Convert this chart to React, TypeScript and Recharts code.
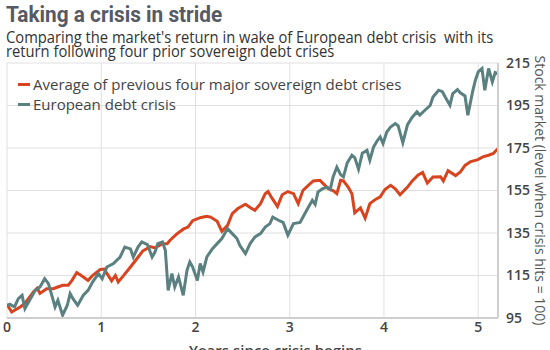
import { LineChart, Line, XAxis, YAxis, CartesianGrid, Legend } from 'recharts';

const xTicks = [0, 1, 2, 3, 4, 5];
const yTicks = [95, 115, 135, 155, 175, 195, 215];

// Average of previous four major sovereign debt crises
const avgYears = [
  0.0, 0.05, 0.14, 0.19, 0.28, 0.32, 0.35, 0.42, 0.49, 0.54, 0.59, 0.65, 0.69, 0.74, 0.81, 0.86, 0.91, 0.99,
  1.03, 1.06, 1.11, 1.15, 1.18, 1.23, 1.31, 1.38, 1.44, 1.52, 1.57, 1.65, 1.7, 1.73, 1.8, 1.87, 1.92, 1.97,
  2.05, 2.12, 2.16, 2.23, 2.28, 2.34, 2.39, 2.45, 2.53, 2.58, 2.63, 2.69, 2.74, 2.77, 2.81, 2.87, 2.92, 2.98,
  3.04, 3.09, 3.14, 3.2, 3.25, 3.32, 3.35, 3.41, 3.46, 3.5, 3.54, 3.57, 3.62, 3.66, 3.69, 3.75, 3.8, 3.85,
  3.91, 3.96, 4.01, 4.07, 4.12, 4.17, 4.25, 4.3, 4.36, 4.41, 4.46, 4.52, 4.6, 4.63, 4.68, 4.76, 4.81, 4.86,
  4.92, 4.99, 5.05, 5.11, 5.16, 5.21,
];
const avgValues = [
  101.4, 97.8, 100.2, 101.9, 107.2, 109, 106.6, 108.8, 108.8, 109.6, 110.4, 110.4, 112.7, 116.4, 114.3, 112.7, 115.1, 117.8,
  118, 116, 112.5, 115, 112, 114.6, 119, 123, 126.5, 128.6, 128, 130, 130, 131.6, 134.5, 136.8, 137.8, 140.8,
  142.2, 142.9, 142.5, 140.5, 135.8, 138.6, 144.1, 146.5, 148.5, 147, 145.7, 148.8, 153.5, 154.5, 151.5, 147.5, 153, 154.5,
  153.5, 148.8, 155, 157.5, 159.5, 159.8, 158.5, 155.8, 155, 153.5, 159.8, 159.5, 156.6, 153.5, 144.5, 146.8, 142, 148.8,
  150.8, 152, 155.5, 157.4, 155.8, 153, 156.6, 159.5, 162.2, 163.5, 158.5, 161.4, 161.5, 159.5, 164.3, 162, 163.7, 166.8,
  168.6, 169.4, 170.8, 171.6, 172.4, 174.7,
];

// European debt crisis
const eurYears = [
  0.0, 0.03, 0.08, 0.12, 0.16, 0.19, 0.24, 0.3, 0.35, 0.4, 0.44, 0.48, 0.51, 0.54, 0.59, 0.64, 0.67, 0.7, 0.75,
  0.81, 0.86, 0.91, 0.97, 1.01, 1.06, 1.13, 1.2, 1.25, 1.31, 1.34, 1.39, 1.43, 1.49, 1.54, 1.57, 1.6, 1.65,
  1.68, 1.71, 1.75, 1.78, 1.82, 1.87, 1.91, 1.94, 1.97, 2.02, 2.05, 2.08, 2.12, 2.18, 2.23, 2.28, 2.34, 2.39,
  2.44, 2.47, 2.53, 2.58, 2.63, 2.69, 2.74, 2.79, 2.82, 2.88, 2.93, 2.98, 3.04, 3.11, 3.18, 3.24, 3.27, 3.3,
  3.35, 3.4, 3.43, 3.46, 3.5, 3.54, 3.57, 3.61, 3.66, 3.69, 3.73, 3.77, 3.82, 3.85, 3.89, 3.93, 3.96, 3.99,
  4.03, 4.07, 4.12, 4.15, 4.2, 4.25, 4.3, 4.35, 4.38, 4.44, 4.49, 4.52, 4.58, 4.62, 4.65, 4.7, 4.73, 4.78,
  4.81, 4.86, 4.89, 4.94, 4.97, 5.0, 5.04, 5.07, 5.11, 5.15, 5.18, 5.21,
];
const eurValues = [
  101, 101.5, 100.2, 104.1, 105.7, 99.4, 103.3, 108, 109.6, 113.5, 111.2, 104.9, 100.2, 103.3, 96.3, 101, 106.5, 104.1, 101,
  105.7, 108, 112, 115.9, 113.5, 119, 120.6, 123.7, 128.4, 127.5, 123.7, 128.4, 130.8, 129.5, 123.7, 126, 130, 130.8,
  126.9, 108, 115.9, 109.6, 114.3, 105.7, 117.4, 121.4, 119, 112.7, 120.6, 116.7, 123.7, 127.6, 130, 132.4, 137.1, 134.7,
  132.4, 129.2, 125.3, 130, 133.1, 134.7, 137.8, 139.4, 142.5, 141, 140, 134, 139.4, 140, 145.7, 150.4, 148.5, 154.3,
  155.9, 156.5, 155.5, 161.4, 166, 162.5, 161.4, 168, 171.6, 170.5, 165, 172.5, 173.9, 169.2, 175.5, 178.5, 180.2, 177.1,
  182.5, 184.9, 186.5, 185.5, 177.5, 186, 189.5, 192, 190.5, 193, 195, 199, 202.2, 201.5, 199, 195.1, 200.6, 202.5,
  201, 199.5, 190.4, 201.4, 206.9, 210.8, 212.4, 202.2, 212.4, 206.1, 210.5, 210,
];

const avgData = avgYears.map((x, i) => ({ x, v: avgValues[i] }));
const eurData = eurYears.map((x, i) => ({ x, v: eurValues[i] }));

const RED = '#d8441f';
const TEAL = '#5a8080';

const legendItems = [
  { label: 'Average of previous four major sovereign debt crises', color: RED },
  { label: 'European debt crisis', color: TEAL },
];

const renderLegend = () => (
  <div style={{ fontFamily: 'Open Sans', fontSize: 15, color: '#444', lineHeight: '20px', whiteSpace: 'nowrap' }}>
    {legendItems.map((it) => (
      <div key={it.label} style={{ display: 'flex', alignItems: 'center' }}>
        <span style={{ display: 'inline-block', width: 12, height: 3, background: it.color, marginRight: 3 }} />
        {it.label}
      </div>
    ))}
  </div>
);

const XLabel = ({ viewBox }: any) => (
  <text x={viewBox.x + viewBox.width / 2 + 23} y={viewBox.y + 38} textAnchor="middle"
    fontFamily="Open Sans" fontSize={15} fontWeight={600} fill="#444">
    Years since crisis begins
  </text>
);

const YLabel = ({ viewBox }: any) => {
  const cx = viewBox.x + 42;
  const cy = viewBox.y + viewBox.height / 2;
  return (
    <text x={cx} y={cy} transform={`rotate(90, ${cx}, ${cy})`} textAnchor="middle" dominantBaseline="central"
      fontFamily="Open Sans" fontSize={14} fill="#555">
      Stock market (level when crisis hits = 100)
    </text>
  );
};

export default function App() {
  return (
    <div style={{ position: 'absolute', top: 0, left: 0, width: 550, height: 350, overflow: 'hidden', background: '#fff' }}>
      <LineChart width={550} height={350} data={avgData} margin={{ top: 63, right: 0, left: 7, bottom: 0 }}>
        <CartesianGrid stroke="#e0e0e0" />
        <XAxis
          type="number"
          dataKey="x"
          domain={[0, 5.21]}
          ticks={xTicks}
          allowDataOverflow
          height={32}
          axisLine={{ stroke: '#cfcfcf', strokeWidth: 2 }}
          tickLine={false}
          tickSize={0}
          tickMargin={4}
          tick={{ fontFamily: 'Open Sans', fontSize: 14, fontWeight: 600, fill: '#444' }}
          label={<XLabel />}
        />
        <YAxis
          orientation="right"
          domain={[95, 215]}
          ticks={yTicks}
          width={52}
          axisLine={{ stroke: '#cfcfcf', strokeWidth: 2 }}
          tickLine={false}
          tick={{ fontFamily: 'Open Sans', fontSize: 14, fontWeight: 600, fill: '#444' }}
          label={<YLabel />}
        />
        <Legend content={renderLegend} layout="vertical" verticalAlign="middle" align="center" wrapperStyle={{ top: 74, left: 18, width: 'auto' }} />
        <Line data={avgData} dataKey="v" type="linear" stroke={RED} strokeWidth={3} dot={false} isAnimationActive={false} />
        <Line data={eurData} dataKey="v" type="linear" stroke={TEAL} strokeWidth={3} dot={false} isAnimationActive={false} />
      </LineChart>
      <div style={{ position: 'absolute', top: 4, left: 6, fontFamily: 'Roboto', fontWeight: 700, fontSize: 22, lineHeight: '22px', color: '#555a64', transform: 'scaleX(0.945)', transformOrigin: 'left top', whiteSpace: 'nowrap' }}>
        Taking a crisis in stride
      </div>
      <div style={{ position: 'absolute', top: 30, left: 6, fontFamily: 'Open Sans', fontSize: 16, lineHeight: '14px', color: '#333', whiteSpace: 'nowrap', transform: 'scaleX(0.92)', transformOrigin: 'left top' }}>
        Comparing the market's return in wake of European debt crisis&nbsp; with its
        <br />
        return following four prior sovereign debt crises
      </div>
    </div>
  );
}
